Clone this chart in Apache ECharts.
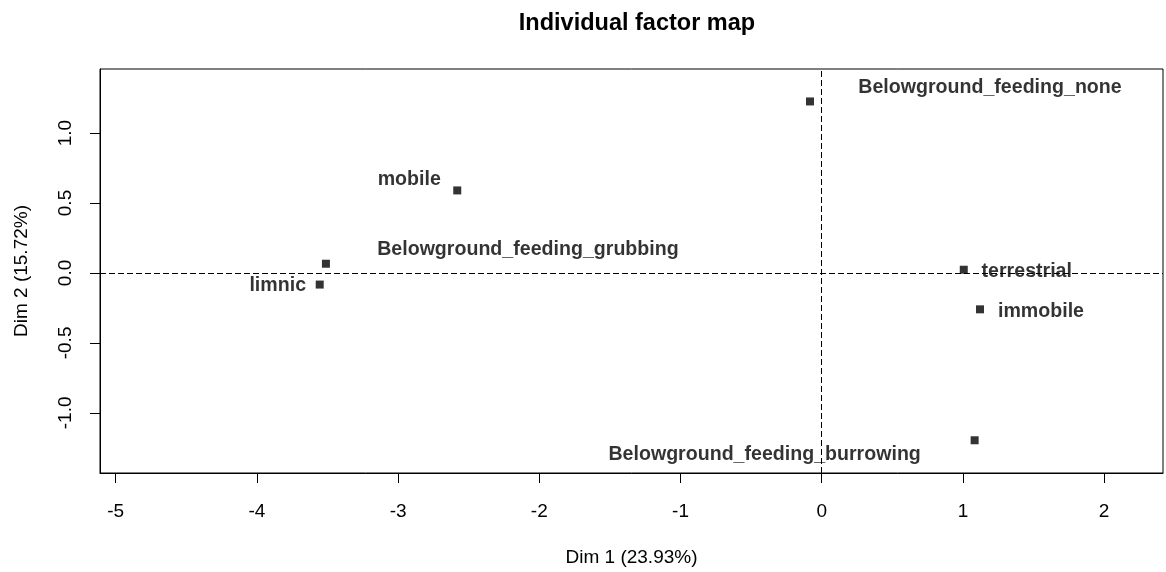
<!DOCTYPE html>
<html>
<head>
<meta charset="utf-8">
<script src="https://cdn.jsdelivr.net/npm/echarts@6/dist/echarts.min.js"></script>
<style>
html,body{margin:0;padding:0;background:#fff;overflow:hidden;}
#chart{width:1166px;height:572px;}
</style>
</head>
<body>
<div id="chart"></div>
<script>
// ---- data ----
const categories = ["Belowground_feeding_none", "mobile", "Belowground_feeding_grubbing", "limnic", "terrestrial", "immobile", "Belowground_feeding_burrowing"];
const dim1 = [-0.083, -2.581, -3.511, -3.555, 1.006, 1.121, 1.083];
const dim2 = [1.226, 0.590, 0.066, -0.083, 0.023, -0.260, -1.196];
const xTicks = [-5, -4, -3, -2, -1, 0, 1, 2];
const yTicks = [-1.0, -0.5, 0.0, 0.5, 1.0];
const titleText = "Individual factor map";
const xName = "Dim 1 (23.93%)";
const yName = "Dim 2 (15.72%)";

// ---- layout (label placement, as in the autoLab result) ----
const labelOffsets = {
  "Belowground_feeding_none": [180, -14],
  "mobile": [-48, -11],
  "Belowground_feeding_grubbing": [202, -14],
  "limnic": [-42, 1],
  "terrestrial": [63, 2],
  "immobile": [61, 2],
  "Belowground_feeding_burrowing": [-210, 14]
};

const FONT = "'Liberation Sans', Arial, sans-serif";
const seriesData = categories.map((c, i) => ({
  name: c,
  value: [dim1[i], dim2[i]],
  label: { offset: labelOffsets[c] }
}));

const chart = echarts.init(document.getElementById('chart'), null, {renderer: 'canvas', width: 1166, height: 572});
chart.setOption({
  backgroundColor: '#fff',
  animation: false,
  title: {
    text: titleText,
    left: 632, top: 7,
    textAlign: 'center',
    textStyle: {fontFamily: FONT, fontWeight: 'bold', fontSize: 23.5, color: '#000'}
  },
  grid: {
    left: 100, top: 69, width: 1063, height: 408,
    show: true, borderColor: '#000', borderWidth: 1, backgroundColor: 'transparent'
  },
  xAxis: {
    type: 'value', min: -5.111, max: 2.417,
    name: xName, nameLocation: 'middle', nameGap: 75,
    nameTextStyle: {fontFamily: FONT, fontSize: 19, color: '#000'},
    splitLine: {show: false},
    axisLine: {show: true, onZero: false, lineStyle: {color: '#000', width: 1}},
    axisTick: {show: true, length: 10, lineStyle: {color: '#000'}, customValues: xTicks},
    axisLabel: {fontFamily: FONT, fontSize: 19, color: '#000', margin: 29, customValues: xTicks,
      formatter: v => String(v)}
  },
  yAxis: {
    type: 'value', min: -1.430, max: 1.458,
    name: yName, nameLocation: 'middle', nameGap: 69,
    nameTextStyle: {fontFamily: FONT, fontSize: 19, color: '#000'},
    splitLine: {show: false},
    axisLine: {show: true, onZero: false, lineStyle: {color: '#000', width: 1}},
    axisTick: {show: true, length: 10, lineStyle: {color: '#000'}, customValues: yTicks},
    axisLabel: {fontFamily: FONT, fontSize: 19, color: '#000', margin: 25, rotate: 90,
      customValues: yTicks, formatter: v => Number(v).toFixed(1)}
  },
  series: [{
    type: 'scatter',
    symbol: 'rect',
    symbolSize: 8,
    itemStyle: {color: '#000'},
    data: seriesData,
    label: {
      show: true, position: 'inside', align: 'center', verticalAlign: 'middle',
      formatter: p => p.name,
      fontFamily: FONT, fontWeight: 'bold', fontSize: 19.6, color: '#000'
    },
    emphasis: {disabled: true},
    markLine: {
      silent: true, symbol: 'none', label: {show: false},
      lineStyle: {color: '#000', type: [6, 3], width: 1},
      data: [{xAxis: 0}, {yAxis: 0}]
    },
    z: 3
  }]
});
</script>
</body>
</html>
